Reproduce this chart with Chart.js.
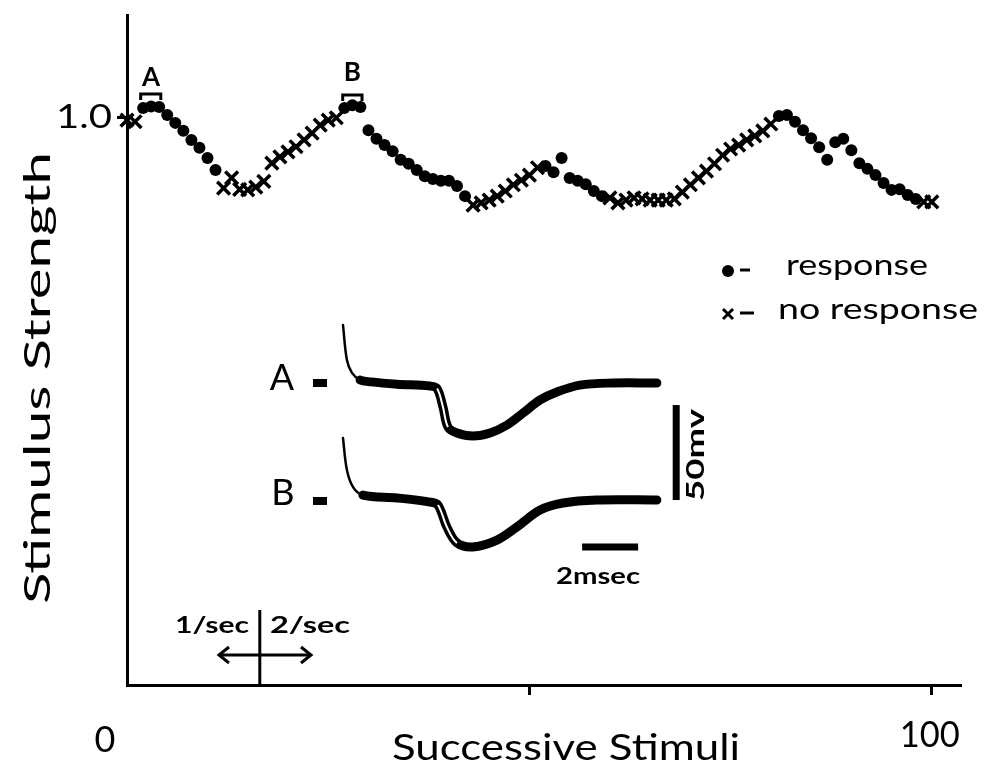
<!DOCTYPE html>
<html>
<head>
<meta charset="utf-8">
<script src="https://cdn.jsdelivr.net/npm/chart.js@4.4.0/dist/chart.umd.min.js"></script>
<style>
  html, body { margin: 0; padding: 0; background: #fff; }
</style>
</head>
<body>
<canvas id="chart" width="987" height="771"></canvas>
<script>
// successive stimuli (number) vs relative stimulus strength
const responseX = [2, 3, 4, 5, 6, 7, 8, 9, 10, 11,
  27, 28, 29, 30, 31, 32, 33, 34, 35, 36, 37, 38, 39, 40, 41, 42,
  52, 53, 54, 55, 56, 57, 58, 59,
  81, 82, 83, 84, 85, 86, 87, 88, 89, 90, 91, 92, 93, 94, 95, 96, 97, 98];
const responseY = [1.016, 1.019, 1.018, 1.004, 0.990, 0.976, 0.960, 0.946, 0.928, 0.907,
  1.016, 1.021, 1.018, 0.977, 0.962, 0.951, 0.940, 0.925, 0.918, 0.907, 0.896, 0.891, 0.888, 0.888, 0.879, 0.861,
  0.914, 0.903, 0.928, 0.893, 0.888, 0.882, 0.870, 0.861,
  1.002, 1.004, 0.992, 0.977, 0.963, 0.947, 0.925, 0.956, 0.962, 0.942, 0.919, 0.909, 0.898, 0.884, 0.872, 0.873, 0.863, 0.856];

const noResponseX = [0, 1,
  12, 13, 14, 15, 16, 17, 18, 19, 20, 21, 22, 23, 24, 25, 26,
  43, 44, 45, 46, 47, 48, 49, 50, 51,
  60, 61, 62, 63, 64, 65, 66, 67, 68, 69, 70, 71, 72, 73, 74, 75, 76, 77, 78, 79, 80,
  99, 100];
const noResponseY = [0.995, 0.992,
  0.875, 0.893, 0.873, 0.872, 0.877, 0.887, 0.919, 0.930, 0.939, 0.948, 0.960, 0.972, 0.986, 0.995, 0.999,
  0.845, 0.849, 0.854, 0.861, 0.870, 0.881, 0.889, 0.898, 0.911,
  0.858, 0.849, 0.854, 0.858, 0.856, 0.854, 0.854, 0.854, 0.856, 0.868, 0.881, 0.893, 0.905, 0.918, 0.933, 0.944, 0.951, 0.960, 0.967, 0.976, 0.988,
  0.851, 0.851];

// inset traces: time (msec) vs potential (mV, relative to resting level)
const waveAT = [0, 0.14, 0.32, 0.61, 1.0, 1.93, 3.11, 3.36, 3.57, 3.75, 4.07, 4.64, 5.25, 5.86, 6.43, 7.04, 7.64, 8.46, 9.64, 11.21];
const waveAV = [30.5, 12.1, 5.3, 1.6, 0.6, -0.6, -1.6, -2.9, -12.6, -23.2, -26.3, -27.9, -26.3, -22.1, -15.8, -8.9, -4.7, -1.1, 0, 0];
const waveBT = [0, 0.14, 0.36, 0.71, 1.93, 3.11, 3.39, 3.71, 4.07, 4.64, 5.5, 6.21, 7.04, 7.86, 9.07, 11.21];
const waveBV = [32.6, 15.8, 6.8, 2.6, 1.1, -1.1, -2.6, -14.2, -22.6, -24.7, -21.1, -14.2, -5.3, -1.6, 0, 0];

const xTicks = [0, 50, 100];
const yTicks = [1.0];

const FONT = 'Lato, "DejaVu Sans", sans-serif';

function pts(xs, ys) {
  return xs.map((v, i) => ({ x: v, y: ys[i] }));
}

function label(ctx, txt, cx, cy, size, weight, width, rot) {
  ctx.save();
  ctx.translate(cx, cy);
  if (rot) ctx.rotate(rot);
  ctx.font = weight + ' ' + size + 'px ' + FONT;
  ctx.textAlign = 'center';
  ctx.textBaseline = 'middle';
  ctx.fillStyle = '#000';
  if (width) {
    const w = ctx.measureText(txt).width;
    ctx.scale(width / w, 1);
  }
  ctx.fillText(txt, 0, 0);
  ctx.restore();
}

function line(ctx, x1, y1, x2, y2, w) {
  ctx.beginPath();
  ctx.moveTo(x1, y1);
  ctx.lineTo(x2, y2);
  ctx.lineWidth = w;
  ctx.stroke();
}

const extras = {
  id: 'extras',
  afterDraw(chart) {
    const ctx = chart.ctx;
    const x = chart.scales.x, y = chart.scales.y;
    const t = chart.scales.t, ya = chart.scales.ya;
    ctx.save();
    ctx.strokeStyle = '#000';
    ctx.fillStyle = '#000';
    ctx.lineCap = 'butt';

    // axis titles and tick labels
    label(ctx, 'Stimulus Strength', 38, 378, 36, 'normal', 452, -Math.PI / 2);
    label(ctx, 'Successive Stimuli', 566, 748, 36, 'normal', 348);
    label(ctx, '1.0', 84, y.getPixelForValue(yTicks[0]), 32, 'normal', 56);
    label(ctx, String(xTicks[0]), x.getPixelForValue(xTicks[0]) - 22, 740, 36, 'normal');
    label(ctx, String(xTicks[2]), x.getPixelForValue(xTicks[2]) - 2, 735, 36, 'normal', 60);

    // brackets A and B over the sampled responses
    const bracket = (a, b, yy) => {
      const x1 = x.getPixelForValue(a), x2 = x.getPixelForValue(b);
      ctx.beginPath();
      ctx.moveTo(x1, yy + 6);
      ctx.lineTo(x1, yy);
      ctx.lineTo(x2, yy);
      ctx.lineTo(x2, yy + 6);
      ctx.lineWidth = 3;
      ctx.stroke();
    };
    bracket(1.7, 4.2, 94);
    label(ctx, 'A', x.getPixelForValue(3), 78, 26, 'bold');
    bracket(26.8, 29.2, 95);
    label(ctx, 'B', x.getPixelForValue(28), 73, 26, 'bold');

    // legend
    ctx.beginPath();
    ctx.arc(728, 271, 6, 0, Math.PI * 2);
    ctx.fill();
    line(ctx, 740, 270, 750, 270, 3);
    label(ctx, 'response', 857, 266, 28, 'normal', 142);
    line(ctx, 723, 309, 733, 319, 3);
    line(ctx, 733, 309, 723, 319, 3);
    line(ctx, 740, 313, 754, 313, 3);
    label(ctx, 'no response', 878, 310, 28, 'normal', 200);

    // inset labels
    label(ctx, 'A', 282, 378, 36, 'normal');
    ctx.fillRect(313, 379, 14, 8);
    label(ctx, 'B', 283, 493, 36, 'normal');
    ctx.fillRect(313, 497, 14, 8);

    // scale bars
    const barX = t.getPixelForValue(11.9);
    line(ctx, barX, ya.getPixelForValue(-11.6), barX, ya.getPixelForValue(-61.6), 7);
    label(ctx, '50mv', 696, 455, 24, 'bold', 92, -Math.PI / 2);
    const barY = ya.getPixelForValue(-86.3);
    line(ctx, t.getPixelForValue(8.54), barY, t.getPixelForValue(10.54), barY, 7);
    label(ctx, '2msec', 598, 577, 22, 'bold', 84);

    // rate change marker
    const xs = x.getPixelForValue(16.5);
    line(ctx, xs, 610, xs, y.bottom, 3);
    label(ctx, '1/sec', 212, 626, 22, 'bold', 74);
    label(ctx, '2/sec', 310, 626, 22, 'bold', 80);
    line(ctx, 219, 655, 311, 655, 3);
    ctx.beginPath();
    ctx.moveTo(229, 647); ctx.lineTo(219, 655); ctx.lineTo(229, 663);
    ctx.moveTo(301, 647); ctx.lineTo(311, 655); ctx.lineTo(301, 663);
    ctx.lineWidth = 3;
    ctx.stroke();

    ctx.restore();
  }
};

// inset axes are hidden; ranges give 28 px per msec and 1.9 px per mV
const PX_MS = 28, PX_MV = 1.9;
const areaL = 127, areaR = 960, areaT = 15, areaB = 685;
const t0 = 343, vA0 = 383, vB0 = 500;

const traceStyle = {
  type: 'line',
  xAxisID: 't',
  order: 2,
  borderColor: '#000',
  pointRadius: 0,
  tension: 0.35,
  borderJoinStyle: 'round',
  borderCapStyle: 'round',
  segment: { borderWidth: c => c.p0DataIndex < 3 ? 2.5 : 9 },
  clip: false
};

// thin white line inside the fall, where the two superimposed sweeps separate
function gapStyle(from, to) {
  return {
    type: 'line',
    xAxisID: 't',
    order: 1,
    borderWidth: 2,
    pointRadius: 0,
    tension: 0.35,
    segment: { borderColor: c => (c.p0DataIndex >= from && c.p0DataIndex <= to) ? '#fff' : 'rgba(0,0,0,0)' },
    clip: false
  };
}

new Chart(document.getElementById('chart'), {
  type: 'scatter',
  data: {
    datasets: [
      {
        label: 'response',
        data: pts(responseX, responseY),
        pointStyle: 'circle',
        pointRadius: 6,
        backgroundColor: '#000',
        borderColor: '#000',
        borderWidth: 0,
        clip: false
      },
      {
        label: 'no response',
        data: pts(noResponseX, noResponseY),
        pointStyle: 'crossRot',
        pointRadius: 9,
        borderColor: '#000',
        borderWidth: 3.5,
        clip: false
      },
      Object.assign({ data: pts(waveAT, waveAV), yAxisID: 'ya' }, traceStyle),
      Object.assign({ data: pts(waveAT, waveAV), yAxisID: 'ya' }, gapStyle(7, 8)),
      Object.assign({ data: pts(waveBT, waveBV), yAxisID: 'yb' }, traceStyle),
      Object.assign({ data: pts(waveBT, waveBV), yAxisID: 'yb' }, gapStyle(6, 7))
    ]
  },
  options: {
    responsive: false,
    animation: false,
    events: [],
    layout: { padding: { left: areaL - 10, right: 987 - areaR, top: areaT, bottom: 771 - areaB - 10 } },
    plugins: { legend: { display: false }, tooltip: { enabled: false } },
    scales: {
      x: {
        type: 'linear',
        min: 0,
        max: 103.5,
        afterBuildTicks: a => { a.ticks = [{ value: xTicks[1] }, { value: xTicks[2] }]; },
        ticks: { display: false },
        grid: { display: true, drawOnChartArea: false, drawTicks: true, tickLength: 10, lineWidth: 3, color: '#000' },
        border: { display: true, width: 3, color: '#000' }
      },
      y: {
        type: 'linear',
        min: 0,
        max: 1.18,
        afterBuildTicks: a => { a.ticks = yTicks.map(v => ({ value: v })); },
        ticks: { display: false },
        grid: { display: true, drawOnChartArea: false, drawTicks: true, tickLength: 10, lineWidth: 3, color: '#000' },
        border: { display: true, width: 3, color: '#000' }
      },
      t: {
        type: 'linear', display: false, position: 'bottom',
        min: -(t0 - areaL) / PX_MS,
        max: (areaR - t0) / PX_MS
      },
      ya: {
        type: 'linear', display: false, position: 'left',
        min: -(areaB - vA0) / PX_MV,
        max: (vA0 - areaT) / PX_MV
      },
      yb: {
        type: 'linear', display: false, position: 'left',
        min: -(areaB - vB0) / PX_MV,
        max: (vB0 - areaT) / PX_MV
      }
    }
  },
  plugins: [extras]
});
</script>
</body>
</html>
